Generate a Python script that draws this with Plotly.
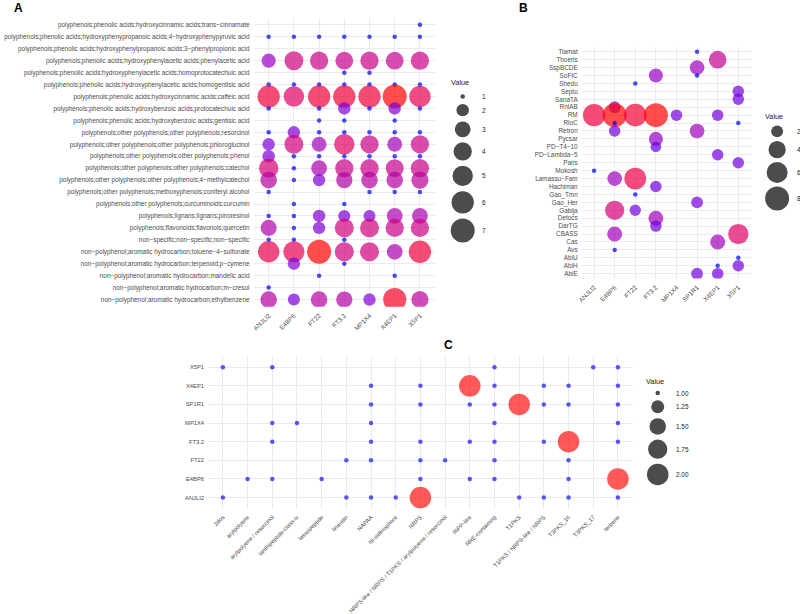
import numpy as np
import plotly.graph_objects as go

FONT = "Liberation Sans, Arial, sans-serif"
TICK_COLOR = "#4d4d4d"
GRID = "#ebebeb"
W, H = 800, 614

# ---------------- Panel A data ----------------
a_samples = ["ANJLI2", "E4BP6", "FT22", "FT3.2", "MP1X4", "X4EP1", "X5P1"]
a_compounds = [
    "polyphenols;phenolic acids;hydroxycinnamic acids;trans−cinnamate",
    "polyphenols;phenolic acids;hydroxyphenypropanoic acids;4−hydroxyphenypyruvic acid",
    "polyphenols;phenolic acids;hydroxyphenylpropanoic acids;3−phenylpropionic acid",
    "polyphenols;phenolic acids;hydroxyphenylacetic acids;phenylacetic acid",
    "polyphenols;phenolic acids;hydroxyphenylacetic acids;homoprotocatechuic acid",
    "polyphenols;phenolic acids;hydroxyphenylacetic acids;homogentisic acid",
    "polyphenols;phenolic acids;hydroxycinnamic acids;caffeic acid",
    "polyphenols;phenolic acids;hydroxybenzoic acids;protocatechuic acid",
    "polyphenols;phenolic acids;hydroxybenzoic acids;gentisic acid",
    "polyphenols;other polyphenols;other polyphenols;resorcinol",
    "polyphenols;other polyphenols;other polyphenols;phloroglucinol",
    "polyphenols;other polyphenols;other polyphenols;phenol",
    "polyphenols;other polyphenols;other polyphenols;catechol",
    "polyphenols;other polyphenols;other polyphenols;4−methylcatechol",
    "polyphenols;other polyphenols;methoxyphenols;coniferyl alcohol",
    "polyphenols;other polyphenols;curcuminoids;curcumin",
    "polyphenols;lignans;lignans;pinoresinol",
    "polyphenols;flavonoids;flavonols;quercetin",
    "non−specific;non−specific;non−specific",
    "non−polyphenol;aromatic hydrocarbon;toluene−4−sulfonate",
    "non−polyphenol;aromatic hydrocarbon;terpenoid;p−cymene",
    "non−polyphenol;aromatic hydrocarbon;mandelic acid",
    "non−polyphenol;aromatic hydrocarbon;m−cresol",
    "non−polyphenol;aromatic hydrocarbon;ethylbenzene",
]
N = None
a_ANJLI2 = [N, 1, N, 2.5, N, 1, 6, 1, N, 1, 2, 2, 4.5, 3.3, 1, N, 1, 3.1, 1, 5.5, N, N, 1, 3.3]
a_E4BP6  = [N, 1, N, 4.3, N, 1, 5, N, N, 2, 4.3, 1, 1, 1, N, 1, 1, 1, 1, 5.3, 2, N, N, 1.9]
a_FT22   = [N, 1, N, 4, N, 1, 6, 1, 1, 1, 2.7, 1, 3, 2, N, N, 2, 2, N, 7, N, 1, N, 3.3]
a_FT32   = [N, 1, N, 3.8, 1, 1, 6, 2, 1, 1, 5, 1, 4, 3.2, N, 1, 1.9, 4.3, 1, 4.3, 1, N, N, 3.2]
a_MP1X4  = [N, 1, N, 4, 1, 1, 6, 1, N, 1, 4, 1, 4, 3.3, 1, N, 1.9, 4.3, N, 4.3, N, N, N, 2]
a_X4EP1  = [N, 1, N, 3.8, N, 1, 7, 2, 1, 1, 2.7, 1, 3.8, 3.3, 1, N, 3, 4, N, 3, N, 1, N, 6.5]
a_X5P1   = [1, 1, N, 4, N, 1, 5.5, 1, N, 1, 4, 1, 4, 3.5, 1, N, 3, 4, N, 6, N, N, N, 3.5]
a_legend_breaks = [1, 2, 3, 4, 5, 6, 7]

# ---------------- Panel B data ----------------
b_samples = ["ANJLI2", "E4BP6", "FT22", "FT3.2", "MP1X4", "SP1R1", "X4EP1", "X5P1"]
b_systems = ["Tiamat", "Thoeris", "SspBCDE", "SoFIC", "Shedu", "Septu", "SanaTA", "RnlAB",
             "RM", "RloC", "Retron", "Pycsar", "PD−T4−10", "PD−Lambda−5", "Paris", "Mokosh",
             "Lamassu−Fam", "Hachiman", "Gao_Tmn", "Gao_Her", "Gabija", "Detocs", "DarTG",
             "CBASS", "Cas", "Avs", "AbiU", "AbiH", "AbiE"]
b_ANJLI2 = {"RM": 6.8, "Mokosh": 1}
b_E4BP6  = {"RnlAB": 2, "RM": 8, "RloC": 1, "Retron": 1.9, "Lamassu−Fam": 2.9,
            "Gabija": 5, "CBASS": 3, "Avs": 1}
b_FT22   = {"Shedu": 1, "RM": 7, "Lamassu−Fam": 6.5, "Gao_Tmn": 1, "Gabija": 1.85}
b_FT32   = {"SoFIC": 2.7, "RM": 8, "Pycsar": 2.7, "PD−T4−10": 1.7, "Hachiman": 1.9,
            "Detocs": 3, "DarTG": 1.9}
b_MP1X4  = {"RM": 1.9}
b_SP1R1  = {"Tiamat": 1, "SspBCDE": 2.9, "SoFIC": 1, "Retron": 2.9, "Gao_Her": 2, "AbiE": 2}
b_X4EP1  = {"Thoeris": 4.2, "RM": 1.9, "PD−Lambda−5": 1.9, "Cas": 3, "AbiH": 1, "AbiE": 1.9}
b_X5P1   = {"Septu": 1.9, "SanaTA": 1.9, "RloC": 1, "Paris": 1.9, "CBASS": 5.6,
            "AbiU": 1, "AbiH": 1.9}
b_legend_breaks = [2, 4, 6, 8]

# ---------------- Panel C data ----------------
c_samples = ["X5P1", "X4EP1", "SP1R1", "MP1X4", "FT3.2", "FT22", "E4BP6", "ANJLI2"]
c_types = ["2dos", "arylpolyene", "arylpolyene / resorcinol", "lanthipeptide-class-iv",
           "lassopeptide", "linaridin", "NAPAA", "NI-siderophore", "NRPS",
           "NRPS-like / NRPS / T1PKS / arylpolyene / resorcinol", "RiPP-like",
           "RRE-containing", "T1PKS", "T1PKS / NRPS-like / NRPS", "T3PKS_16", "T3PKS_17",
           "terpene"]
c_X5P1   = {"2dos": 1, "arylpolyene / resorcinol": 1, "RRE-containing": 1, "T3PKS_17": 1,
            "terpene": 1}
c_X4EP1  = {"NAPAA": 1, "NRPS": 1, "RiPP-like": 2, "RRE-containing": 1,
            "T1PKS / NRPS-like / NRPS": 1, "T3PKS_16": 1, "terpene": 1}
c_SP1R1  = {"NAPAA": 1, "NRPS": 1, "RiPP-like": 1, "RRE-containing": 1, "T1PKS": 2,
            "T1PKS / NRPS-like / NRPS": 1, "T3PKS_16": 1, "terpene": 1}
c_MP1X4  = {"arylpolyene / resorcinol": 1, "lanthipeptide-class-iv": 1, "NAPAA": 1,
            "RRE-containing": 1, "terpene": 1}
c_FT32   = {"arylpolyene / resorcinol": 1, "NAPAA": 1, "NRPS": 1, "RiPP-like": 1,
            "RRE-containing": 1, "T1PKS / NRPS-like / NRPS": 1, "T3PKS_16": 2, "terpene": 1}
c_FT22   = {"linaridin": 1, "NAPAA": 1, "NRPS": 1,
            "NRPS-like / NRPS / T1PKS / arylpolyene / resorcinol": 1, "RRE-containing": 1,
            "T3PKS_16": 1}
c_E4BP6  = {"arylpolyene": 1, "arylpolyene / resorcinol": 1, "lassopeptide": 1, "NRPS": 1,
            "RiPP-like": 1, "RRE-containing": 1, "T3PKS_16": 1, "terpene": 2}
c_ANJLI2 = {"2dos": 1, "linaridin": 1, "NAPAA": 1, "NI-siderophore": 1, "NRPS": 2,
            "T1PKS": 1, "T1PKS / NRPS-like / NRPS": 1, "T3PKS_16": 1, "terpene": 1}
c_legend_breaks = [1.00, 1.25, 1.50, 1.75, 2.00]


# ---------------- colour scale (blue -> red, Lab interpolation) ----------------
_M = np.array([[0.4124564, 0.3575761, 0.1804375],
               [0.2126729, 0.7151522, 0.0721750],
               [0.0193339, 0.1191920, 0.9503041]])
_WHITE = np.array([0.95047, 1.0, 1.08883])


def rgb2lab(rgb):
    c = np.array(rgb, float) / 255.0
    c = np.where(c <= 0.04045, c / 12.92, ((c + 0.055) / 1.055) ** 2.4)
    xyz = (_M @ c) / _WHITE
    d = 6 / 29
    f = np.where(xyz > d ** 3, np.cbrt(xyz), xyz / (3 * d * d) + 4 / 29)
    return np.array([116 * f[1] - 16, 500 * (f[0] - f[1]), 200 * (f[1] - f[2])])


def lab2rgb(lab):
    L, a, b = lab
    fy = (L + 16) / 116
    f = np.array([fy + a / 500, fy, fy - b / 200])
    d = 6 / 29
    xyz = np.where(f > d, f ** 3, 3 * d * d * (f - 4 / 29)) * _WHITE
    c = np.linalg.solve(_M, xyz)
    c = np.clip(c, 0, 1)
    c = np.where(c <= 0.0031308, 12.92 * c, 1.055 * c ** (1 / 2.4) - 0.055)
    return np.clip(np.round(c * 255), 0, 255).astype(int)


lab_lo, lab_hi = rgb2lab((0, 0, 255)), rgb2lab((255, 0, 0))
COLORSCALE = []
for t in np.linspace(0, 1, 21):
    r, g, b = lab2rgb(lab_lo + (lab_hi - lab_lo) * t)
    COLORSCALE.append([float(t), f"rgb({r},{g},{b})"])


def diam(v, vmin, vmax, dmax, dmin=4.5):
    v = np.asarray(v, float)
    return dmin + (dmax - dmin) * np.sqrt((v - vmin) / (vmax - vmin))


# ---------------- layout helpers ----------------
def xdom(px0, px1):
    return [px0 / W, px1 / W]


def ydom(py0, py1):
    return [1 - py1 / H, 1 - py0 / H]


fig = go.Figure()

# ---- Panel A
a_cols = [a_ANJLI2, a_E4BP6, a_FT22, a_FT32, a_MP1X4, a_X4EP1, a_X5P1]
ax, ay, av = [], [], []
for s, col in zip(a_samples, a_cols):
    for comp, v in zip(a_compounds, col):
        if v is not None:
            ax.append(s); ay.append(comp); av.append(v)
A_MIN, A_MAX, A_DMAX = 1, 7, 24
fig.add_trace(go.Scatter(
    x=ax, y=ay, mode="markers", xaxis="x", yaxis="y", showlegend=False,
    marker=dict(size=diam(av, A_MIN, A_MAX, A_DMAX), color=av, colorscale=COLORSCALE,
                cmin=A_MIN, cmax=A_MAX, opacity=0.7, line=dict(width=0))))

# ---- Panel B
b_cols = [b_ANJLI2, b_E4BP6, b_FT22, b_FT32, b_MP1X4, b_SP1R1, b_X4EP1, b_X5P1]
bx, by, bv = [], [], []
for s, col in zip(b_samples, b_cols):
    for sysname in b_systems:
        if sysname in col:
            bx.append(s); by.append(sysname); bv.append(col[sysname])
B_MIN, B_MAX, B_DMAX = 1, 8, 24
fig.add_trace(go.Scatter(
    x=bx, y=by, mode="markers", xaxis="x2", yaxis="y2", showlegend=False,
    marker=dict(size=diam(bv, B_MIN, B_MAX, B_DMAX), color=bv, colorscale=COLORSCALE,
                cmin=B_MIN, cmax=B_MAX, opacity=0.7, line=dict(width=0))))

# ---- Panel C
c_rows = [c_X5P1, c_X4EP1, c_SP1R1, c_MP1X4, c_FT32, c_FT22, c_E4BP6, c_ANJLI2]
cx, cy, cv = [], [], []
for s, row in zip(c_samples, c_rows):
    for t in c_types:
        if t in row:
            cx.append(t); cy.append(s); cv.append(row[t])
C_MIN, C_MAX, C_DMAX = 1, 2, 21.5
fig.add_trace(go.Scatter(
    x=cx, y=cy, mode="markers", xaxis="x3", yaxis="y3", showlegend=False,
    marker=dict(size=diam(cv, C_MIN, C_MAX, C_DMAX), color=cv, colorscale=COLORSCALE,
                cmin=C_MIN, cmax=C_MAX, opacity=0.65, line=dict(width=0))))

# ---- size legends (on a pixel overlay axis)
annotations = []


def size_legend(breaks, vmin, vmax, dmax, title_xy, key_x, label_x, first_y, gap, fmt):
    ds = diam(breaks, vmin, vmax, dmax)
    ys = [first_y]
    for i in range(1, len(breaks)):
        ys.append(ys[-1] + (ds[i - 1] + ds[i]) / 2 + gap)
    fig.add_trace(go.Scatter(
        x=[key_x] * len(breaks), y=ys, mode="markers", xaxis="x4", yaxis="y4",
        showlegend=False, hoverinfo="skip",
        marker=dict(size=ds, color="black", opacity=0.7, line=dict(width=0))))
    annotations.append(dict(x=title_xy[0], y=title_xy[1], xref="x4", yref="y4",
                            text="Value", showarrow=False, xanchor="left", yanchor="middle",
                            font=dict(family=FONT, size=7.3, color="#1a1a1a")))
    for b, yv in zip(breaks, ys):
        annotations.append(dict(x=label_x, y=yv, xref="x4", yref="y4", text=fmt(b),
                                showarrow=False, xanchor="left", yanchor="middle",
                                font=dict(family=FONT, size=6.4, color="#1a1a1a")))


size_legend(a_legend_breaks, A_MIN, A_MAX, A_DMAX, (447, 83), 461, 478, 97, 5.2,
            lambda v: f"{v:g}")
size_legend(b_legend_breaks, B_MIN, B_MAX, B_DMAX, (763, 117), 777, 795, 132, 3.8,
            lambda v: f"{v:g}")
size_legend(c_legend_breaks, C_MIN, C_MAX, C_DMAX, (643, 383), 657, 673, 395, 5.0,
            lambda v: f"{v:.2f}")

for letter, x, y in [("A", 8, 8), ("B", 516, 8), ("C", 440, 347)]:
    annotations.append(dict(x=x, y=y, xref="x4", yref="y4", text=f"<b>{letter}</b>",
                            showarrow=False, xanchor="left", yanchor="middle",
                            font=dict(family=FONT, size=12, color="black")))

tickfont = dict(family=FONT, size=6.4, color=TICK_COLOR)
tickfont_c = dict(family=FONT, size=5.8, color=TICK_COLOR)


def cat_axis(cats, dom, anchor, font, reverse=False, angle=None):
    n = len(cats)
    rng = [n - 0.4, -0.6] if reverse else [-0.6, n - 0.4]
    d = dict(type="category", categoryorder="array", categoryarray=cats, range=rng,
             tickmode="array", tickvals=cats, ticktext=cats,
             domain=dom, anchor=anchor, showgrid=True, gridcolor=GRID, gridwidth=0.8,
             zeroline=False, showline=False, ticks="", tickfont=font, fixedrange=True,
             ticklabelstandoff=3)
    if angle is not None:
        d["tickangle"] = angle
    return d


fig.update_layout(
    width=W, height=H, margin=dict(l=0, r=0, t=0, b=0),
    paper_bgcolor="white", plot_bgcolor="rgba(0,0,0,0)",
    font=dict(family=FONT),
    xaxis=cat_axis(a_samples, xdom(250.8, 433.2), "y", tickfont, angle=-45),
    yaxis=cat_axis(a_compounds, ydom(17.8, 308.2), "x", tickfont, reverse=True),
    xaxis2=cat_axis(b_samples, xdom(580.6, 750.4), "y2", tickfont, angle=-45),
    yaxis2=cat_axis(b_systems, ydom(47.2, 279.8), "x2", tickfont, reverse=True),
    xaxis3=cat_axis(c_types, xdom(205.1, 631.9), "y3", tickfont_c, angle=-45),
    yaxis3=cat_axis(c_samples, ydom(357.8, 511.2), "x3", tickfont_c, reverse=True),
    xaxis4=dict(domain=[0, 1], range=[0, W], visible=False, anchor="y4", fixedrange=True),
    yaxis4=dict(domain=[0, 1], range=[H, 0], visible=False, anchor="x4", fixedrange=True),
    annotations=annotations,
)

fig.write_html(
    "out.html",
    config={"displayModeBar": False},
    post_script="document.body.style.margin='0';document.body.style.padding='0';"
                "document.body.style.overflow='hidden';",
)
